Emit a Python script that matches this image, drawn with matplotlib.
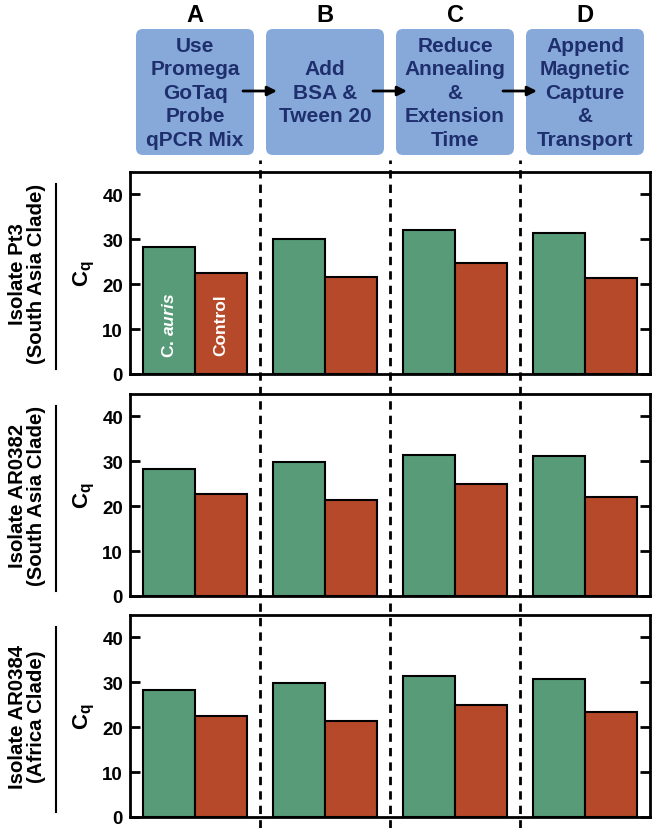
import matplotlib
matplotlib.use("Agg")
import matplotlib.pyplot as plt
from matplotlib.patches import FancyBboxPatch
from matplotlib.lines import Line2D
import matplotlib.transforms as mtransforms

plt.rcParams['font.family'] = ['Liberation Sans', 'DejaVu Sans']
plt.rcParams['mathtext.fontset'] = 'custom'
plt.rcParams['mathtext.rm'] = 'Liberation Sans:bold'
plt.rcParams['mathtext.bf'] = 'Liberation Sans:bold'
plt.rcParams['mathtext.it'] = 'Liberation Sans:bold:italic'

# ---- data ----
steps = ["A", "B", "C", "D"]
step_texts = ["Use\nPromega\nGoTaq\nProbe\nqPCR Mix",
              "Add\nBSA &\nTween 20",
              "Reduce\nAnnealing\n&\nExtension\nTime",
              "Append\nMagnetic\nCapture\n&\nTransport"]
isolates = ["Isolate Pt3\n(South Asia Clade)",
            "Isolate AR0382\n(South Asia Clade)",
            "Isolate AR0384\n(Africa Clade)"]
cauris_pt3 = [28.2, 30.1, 32.0, 31.3]
control_pt3 = [22.4, 21.5, 24.8, 21.3]
cauris_ar0382 = [28.4, 29.8, 31.3, 31.2]
control_ar0382 = [22.8, 21.3, 25.0, 22.1]
cauris_ar0384 = [28.3, 29.8, 31.4, 30.7]
control_ar0384 = [22.5, 21.3, 24.9, 23.5]
cauris_vals = [cauris_pt3, cauris_ar0382, cauris_ar0384]
control_vals = [control_pt3, control_ar0382, control_ar0384]
yticks = [0, 10, 20, 30, 40]

GREEN = "#589B78"
RED = "#B5492A"
BOXC = "#86A9D9"
NAVY = "#1F2F6E"

W, H = 654, 829
fig = plt.figure(figsize=(W / 100, H / 100), dpi=100)

# axes layout in pixels: (top, bottom)
left_px, right_px = 130, 650
panels_px = [(173, 375), (395, 597), (616, 818)]

axes = []
for k, (t, b) in enumerate(panels_px):
    ax = fig.add_axes([left_px / W, 1 - b / H, (right_px - left_px) / W, (b - t) / H])
    axes.append(ax)
    x = list(range(len(steps)))
    ax.bar([i - 0.2 for i in x], cauris_vals[k], width=0.4, color=GREEN,
           edgecolor="black", linewidth=1.5, zorder=3)
    ax.bar([i + 0.2 for i in x], control_vals[k], width=0.4, color=RED,
           edgecolor="black", linewidth=1.5, zorder=3)
    ax.set_xlim(-0.5, 3.5)
    ax.set_ylim(0, 45)
    ax.set_xticks([])
    ax.set_yticks(yticks)
    ax.set_yticklabels([str(v) for v in yticks], fontsize=13.5, fontweight="bold")
    ax.tick_params(axis="y", direction="in", length=7, width=2, pad=5,
                   right=True, labelright=False)
    for sp in ax.spines.values():
        sp.set_linewidth(2)
    ax.set_ylabel(r"$\mathrm{C}_\mathrm{q}$", fontsize=16, labelpad=4)

    # isolate label and bar
    yc = 1 - (t + b) / 2 / H
    fig.text(27 / W, yc, isolates[k], rotation=90, ha="center", va="center",
             fontsize=14.7, fontweight="bold", linespacing=1.05)
    fig.add_artist(Line2D([56 / W, 56 / W], [1 - (b - 5) / H, 1 - (t + 12) / H],
                          color="black", linewidth=1.5))

# in-bar labels
axes[0].text(-0.2, 11, r"C. $\mathit{auris}$", rotation=90, ha="center", va="center",
             color="white", fontsize=12.5, fontweight="bold", zorder=5)
axes[0].text(0.2, 11, "Control", rotation=90, ha="center", va="center",
             color="white", fontsize=12.5, fontweight="bold", zorder=5)

# dashed separators spanning all panels
trans = mtransforms.blended_transform_factory(axes[0].transData, fig.transFigure)
for xs in [0.5, 1.5, 2.5]:
    fig.add_artist(Line2D([xs, xs], [0.0, 1 - 161 / H], transform=trans,
                          color="black", linewidth=2, linestyle=(0, (3, 2.2)), zorder=10))

# header overlay in pixel coordinates
hx = fig.add_axes([0, 0, 1, 1], zorder=-1)
hx.set_xlim(0, W)
hx.set_ylim(H, 0)
hx.axis("off")
gw = (right_px - left_px) / 4
bw = 118
for i, (lab, txt) in enumerate(zip(steps, step_texts)):
    cx = left_px + (i + 0.5) * gw
    hx.add_patch(FancyBboxPatch((cx - bw / 2 + 6, 36), bw - 12, 114,
                                boxstyle="round,pad=6,rounding_size=7",
                                facecolor=BOXC, edgecolor="none"))
    hx.text(cx, 15, lab, ha="center", va="center", fontsize=17, fontweight="bold")
    hx.text(cx, 93, txt, ha="center", va="center", fontsize=15, fontweight="bold",
            color=NAVY, linespacing=1.3)
    if i < 3:
        hx.annotate("", xy=(cx + gw / 2 + 17, 92), xytext=(cx + gw / 2 - 17, 92),
                    arrowprops=dict(arrowstyle="-|>", color="black", lw=2,
                                    mutation_scale=14, shrinkA=0, shrinkB=0))

fig.savefig("out.png", dpi=100)
